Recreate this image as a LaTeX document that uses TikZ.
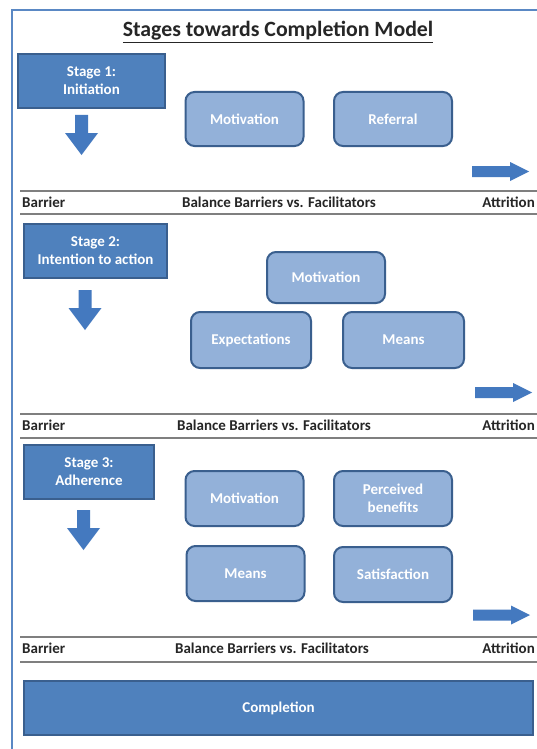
\documentclass[tikz,border=0pt]{standalone}
\usepackage{fontspec}
\setmainfont{Carlito}
\usetikzlibrary{positioning}
\definecolor{darkfill}{HTML}{4F81BD}
\definecolor{darkedge}{HTML}{3A5F8E}
\definecolor{lightfill}{HTML}{93B1D9}
\definecolor{lightedge}{HTML}{3A5F8E}
\definecolor{framecol}{HTML}{5A88C4}
\definecolor{rulecol}{HTML}{7F7F7F}
\definecolor{arrowcol}{HTML}{4479BF}
\tikzset{
  stagebox/.style={draw=darkedge, line width=1.2pt, fill=darkfill, text=white,
    font=\bfseries\fontsize{15}{18}\selectfont, align=center, inner sep=0pt},
  factor/.style={draw=lightedge, line width=2pt, fill=lightfill, text=white,
    rounded corners=9pt, font=\bfseries\fontsize{15}{18}\selectfont,
    align=center, inner sep=0pt, minimum width=118pt, minimum height=54pt},
  seprule/.style={draw=rulecol, line width=1.4pt},
  rowtext/.style={font=\bfseries\fontsize{15}{18}\selectfont, inner sep=0pt, text=black!85},
  blockarrow/.style={fill=arrowcol, draw=none},
}
% downward block arrow: centre x, top y
\newcommand{\downarrowat}[2]{%
  \fill[blockarrow] (#1-6.5,#2) -- (#1+6.5,#2) -- (#1+6.5,#2+18) -- (#1+16.5,#2+18)
    -- (#1,#2+40) -- (#1-16.5,#2+18) -- (#1-6.5,#2+18) -- cycle;}
% rightward block arrow: left x, centre y
\newcommand{\rightarrowat}[2]{%
  \fill[blockarrow] (#1,#2-5.5) -- (#1+38,#2-5.5) -- (#1+38,#2-9.5) -- (#1+57,#2)
    -- (#1+38,#2+9.5) -- (#1+38,#2+5.5) -- (#1,#2+5.5) -- cycle;}
\begin{document}
\begin{tikzpicture}[x=1pt,y=-1pt]
\useasboundingbox (0,0) rectangle (537,749);
\fill[white] (0,0) rectangle (537,749);

% outer frame (top and left sides visible)
\draw[framecol, line width=2pt] (11.5,749) -- (11.5,10.5) -- (537,10.5);

% title
\node[font=\bfseries\fontsize{21.8}{26}\selectfont, text=black!85, inner sep=0pt] (title) at (278,32)
  {\underline{Stages towards Completion Model}};

% ---------- Stage 1 ----------
\node[stagebox, minimum width=147pt, minimum height=54pt] (s1) at (91.5,81) {Stage 1:\\Initiation};
\downarrowat{81.5}{115}
\node[factor] (s1mot) at (244.5,119) {Motivation};
\node[factor] (s1ref) at (393,119) {Referral};
\rightarrowat{472}{171.5}
\draw[seprule] (20,191) -- (537,191);
\draw[seprule] (20,214) -- (537,214);
\node[rowtext, anchor=west] (b1) at (22,202.5) {Barrier};
\node[rowtext] (m1) at (279,202.5) {Balance Barriers vs. Facilitators};
\node[rowtext, anchor=east] (a1) at (535,202.5) {Attrition};

% ---------- Stage 2 ----------
\node[stagebox, minimum width=143pt, minimum height=54pt] (s2) at (95.5,251) {Stage 2:\\Intention to action};
\downarrowat{85}{290}
\node[factor, minimum height=51pt] (s2mot) at (326,277.5) {Motivation};
\node[factor, minimum width=120pt, minimum height=56pt] (s2exp) at (251,340) {Expectations};
\node[factor, minimum width=121pt, minimum height=56pt] (s2mea) at (403.5,340) {Means};
\rightarrowat{475}{392.5}
\draw[seprule] (20,414) -- (537,414);
\draw[seprule] (20,438) -- (537,438);
\node[rowtext, anchor=west] (b2) at (22,425.5) {Barrier};
\node[rowtext] (m2) at (274,425.5) {Balance Barriers vs. Facilitators};
\node[rowtext, anchor=east] (a2) at (535,425.5) {Attrition};

% ---------- Stage 3 ----------
\node[stagebox, minimum width=130pt, minimum height=54pt] (s3) at (89,472) {Stage 3:\\Adherence};
\downarrowat{83.5}{510}
\node[factor, minimum height=55pt] (s3mot) at (244.5,498.5) {Motivation};
\node[factor, minimum height=55pt] (s3ben) at (393,498.5) {Perceived\\benefits};
\node[factor, minimum height=55pt] (s3mea) at (245.5,573.5) {Means};
\node[factor, minimum height=55pt] (s3sat) at (393,574.5) {Satisfaction};
\rightarrowat{473}{615}
\draw[seprule] (20,637) -- (537,637);
\draw[seprule] (20,662) -- (537,662);
\node[rowtext, anchor=west] (b3) at (22,648.5) {Barrier};
\node[rowtext] (m3) at (272,648.5) {Balance Barriers vs. Facilitators};
\node[rowtext, anchor=east] (a3) at (535,648.5) {Attrition};

% ---------- Completion ----------
\node[stagebox, minimum width=509pt, minimum height=54pt] (done) at (278.5,708) {Completion};
\end{tikzpicture}
\end{document}
